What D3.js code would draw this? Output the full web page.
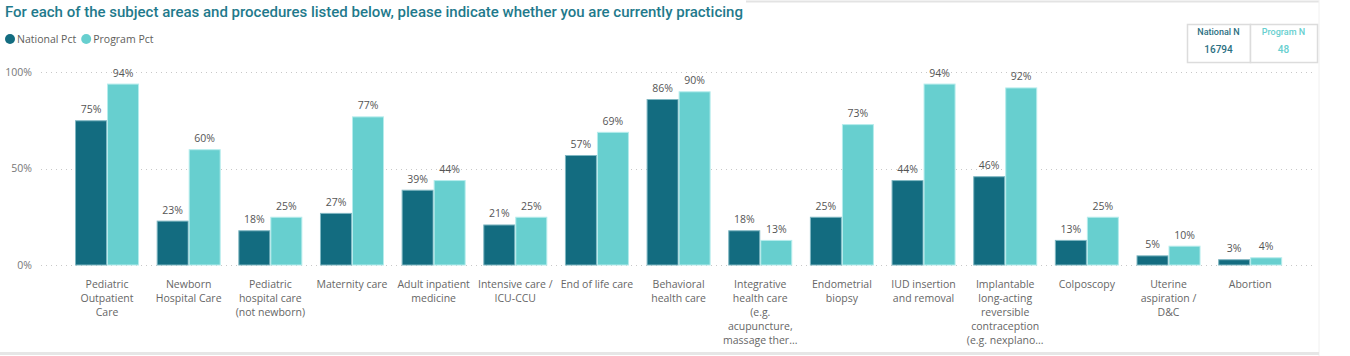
<!DOCTYPE html>
<html><head><meta charset="utf-8">
<script src="https://cdn.jsdelivr.net/npm/d3@7"></script>
<style>
body{margin:0;background:#fff;}
svg{display:block;}
</style></head>
<body>
<svg id="chart" width="1350" height="356"></svg>
<script>
const categories = [
  ["Pediatric","Outpatient","Care"],
  ["Newborn","Hospital Care"],
  ["Pediatric","hospital care","(not newborn)"],
  ["Maternity care"],
  ["Adult inpatient","medicine"],
  ["Intensive care /","ICU-CCU"],
  ["End of life care"],
  ["Behavioral","health care"],
  ["Integrative","health care","(e.g.","acupuncture,","massage ther..."],
  ["Endometrial","biopsy"],
  ["IUD insertion","and removal"],
  ["Implantable","long-acting","reversible","contraception","(e.g. nexplano..."],
  ["Colposcopy"],
  ["Uterine","aspiration /","D&C"],
  ["Abortion"]
];
const nationalPct = [75, 23, 18, 27, 39, 21, 57, 86, 18, 25, 44, 46, 13, 5, 3];
const programPct  = [94, 60, 25, 77, 44, 25, 69, 90, 13, 73, 94, 92, 25, 10, 4];
const seriesNames = ["National Pct", "Program Pct"];
const yTicks = [0, 50, 100];
const nationalN = "16794";
const programN = "48";

const colors = ["#136C80", "#67CFCF"];
const strokes = ["#7fb7c2", "#b5ecec"];
const font = "'Open Sans', 'Noto Sans', sans-serif";
const titleFont = "'Roboto', 'Noto Sans', sans-serif";

const svg = d3.select("#chart");

// frame lines
svg.append("line").attr("x1", 746).attr("x2", 1319).attr("y1", 1.5).attr("y2", 1.5).attr("stroke", "#e3e3e3").attr("stroke-width", 2);
svg.append("line").attr("x1", 1319).attr("x2", 1319).attr("y1", 0).attr("y2", 356).attr("stroke", "#f0f0f0").attr("stroke-width", 1);
svg.append("line").attr("x1", 0).attr("x2", 1319).attr("y1", 353.5).attr("y2", 353.5).attr("stroke", "#e6e6e6").attr("stroke-width", 3);

// title
svg.append("text").attr("x", 5).attr("y", 17)
  .attr("font-family", titleFont).attr("font-size", 15).attr("font-weight", 500)
  .attr("fill", "#1f7a8c")
  .text("For each of the subject areas and procedures listed below, please indicate whether you are currently practicing");

// legend
const legend = svg.append("g");
let lx = 10;
seriesNames.forEach((name, i) => {
  legend.append("circle").attr("cx", lx).attr("cy", 39).attr("r", 5).attr("fill", colors[i]);
  const t = legend.append("text").attr("x", lx + 7).attr("y", 43)
    .attr("font-family", font).attr("font-size", 10.5).attr("fill", "#605e5c").text(name);
  lx += 7 + t.node().getComputedTextLength() + 10;
});

// cards
const cards = [
  {label: "National N", value: nationalN, color: "#2b6f82", x0: 1187, x1: 1250},
  {label: "Program N", value: programN, color: "#67CFCF", x0: 1250, x1: 1317}
];
cards.forEach(c => {
  svg.append("rect").attr("x", c.x0 + 0.5).attr("y", 24.5).attr("width", c.x1 - c.x0).attr("height", 38)
    .attr("fill", "#fff").attr("stroke", "#dcdcdc").attr("stroke-width", 1.5);
  const cx = (c.x0 + c.x1) / 2;
  svg.append("text").attr("x", cx).attr("y", 35).attr("text-anchor", "middle")
    .attr("font-family", titleFont).attr("font-size", 9).attr("font-weight", 500).attr("fill", c.color).text(c.label);
  svg.append("text").attr("x", cx).attr("y", 53).attr("text-anchor", "middle")
    .attr("font-family", titleFont).attr("font-size", 10).attr("font-weight", 500).attr("fill", c.color).text(c.value);
});

// scales
const x0 = d3.scaleBand().domain(d3.range(categories.length)).range([66.2, 1291]).paddingInner(0.216).paddingOuter(0.108);
const x1 = d3.scaleBand().domain([0, 1]).range([0, x0.bandwidth()]);
const y = d3.scaleLinear().domain([0, 100]).range([265, 72]);

// grid
svg.append("g").selectAll("line").data(yTicks).join("line")
  .attr("x1", 41).attr("x2", 1313)
  .attr("y1", d => Math.round(y(d)) + 0.5).attr("y2", d => Math.round(y(d)) + 0.5)
  .attr("stroke", "#c8c8c8").attr("stroke-dasharray", "1,4").attr("stroke-width", 1);

// y axis labels
const yAxis = d3.axisLeft(y).tickValues(yTicks).tickFormat(d => d + "%").tickSize(0).tickPadding(0);
const ya = svg.append("g").attr("transform", "translate(32,0)").call(yAxis);
ya.select(".domain").remove();
ya.selectAll("text").attr("font-family", font).attr("font-size", 10.5).attr("fill", "#777").attr("dy", "0.32em");

// bars
const series = [nationalPct, programPct];
const groups = svg.append("g").selectAll("g").data(categories.map((c, i) => i)).join("g")
  .attr("transform", i => `translate(${x0(i)},0)`);
groups.selectAll("rect").data(i => series.map((s, k) => ({k, v: s[i]}))).join("rect")
  .attr("x", d => x1(d.k) + 0.5)
  .attr("y", d => y(d.v) + 0.5)
  .attr("width", x1.bandwidth() - 1)
  .attr("height", d => Math.max(0, y(0) - y(d.v) - 0.5))
  .attr("fill", d => colors[d.k])
  .attr("stroke", d => strokes[d.k]).attr("stroke-width", 1);
groups.selectAll("text.val").data(i => series.map((s, k) => ({k, v: s[i]}))).join("text")
  .attr("class", "val")
  .attr("x", d => x1(d.k) + x1.bandwidth() / 2)
  .attr("y", d => y(d.v) - 7)
  .attr("text-anchor", "middle")
  .attr("font-family", font).attr("font-size", 10.5).attr("fill", "#555")
  .text(d => d.v + "%");

// category labels
const xAxis = svg.append("g");
categories.forEach((lines, i) => {
  const t = xAxis.append("text")
    .attr("x", x0(i) + x0.bandwidth() / 2).attr("y", 288)
    .attr("text-anchor", "middle")
    .attr("font-family", font).attr("font-size", 10.5).attr("fill", "#666");
  lines.forEach((l, j) => {
    t.append("tspan").attr("x", x0(i) + x0.bandwidth() / 2).attr("y", 288 + j * 14).text(l);
  });
});
</script>
</body></html>
